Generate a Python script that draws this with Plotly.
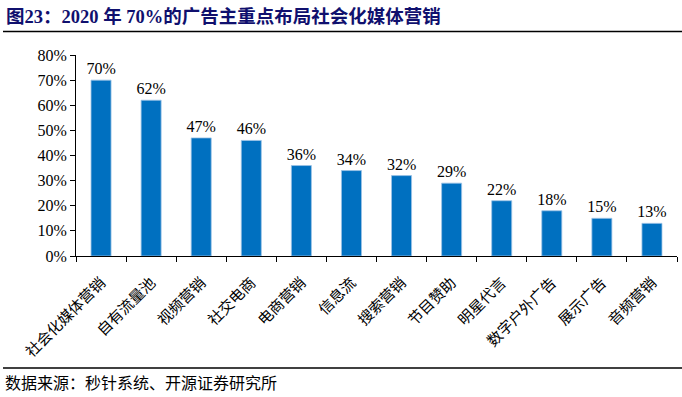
import plotly.graph_objects as go

categories = ["社会化媒体营销", "自有流量池", "视频营销", "社交电商", "电商营销", "信息流",
              "搜索营销", "节目赞助", "明星代言", "数字户外广告", "展示广告", "音频营销"]
values = [70, 62, 47, 46, 36, 34, 32, 29, 22, 18, 15, 13]
labels = [f"{v}%" for v in values]
y_ticks = [0, 10, 20, 30, 40, 50, 60, 70, 80]
y_tick_text = [f"{t}%" for t in y_ticks]

title_text = "图23：2020 年 70%的广告主重点布局社会化媒体营销"
source_text = "数据来源：秒针系统、开源证券研究所"

W, H = 682, 397
L, R, T, B = 76, 5, 55, 141
pw, ph = W - L - R, H - T - B

def px_x(x):
    return (x - L) / pw

def px_y(y):
    return (H - B - y) / ph

serif = "Liberation Serif, Times New Roman, Noto Sans CJK SC, serif"
cjk = "Liberation Serif, Noto Sans CJK SC, serif"

fig = go.Figure()
fig.add_trace(go.Bar(
    x=categories, y=values, text=labels, textposition="outside",
    constraintext="none",
    textfont=dict(family=serif, size=16, color="#000000"),
    marker=dict(color="#0070C0", line=dict(color="#9DC3E6", width=0.8)),
    width=0.4, cliponaxis=False,
))

fig.update_layout(
    width=W, height=H,
    margin=dict(l=L, r=R, t=T, b=B),
    paper_bgcolor="white", plot_bgcolor="white",
    showlegend=False,
    xaxis=dict(
        type="category", tickangle=-45, ticks="outside", tickson="boundaries",
        ticklen=5, tickcolor="#000", showline=True, linecolor="#000", linewidth=1,
        tickfont=dict(family=cjk, size=15, color="#000"),
        ticklabelstandoff=11,
        showgrid=False, automargin=False,
    ),
    yaxis=dict(
        range=[0, 80], tickvals=y_ticks, ticktext=y_tick_text,
        ticks="outside", ticklen=5, tickcolor="#000", showline=True,
        linecolor="#000", linewidth=1, showgrid=False, zeroline=False,
        tickfont=dict(family=serif, size=16, color="#000"), automargin=False,
    ),
    annotations=[
        dict(text=f"<b>{title_text}</b>", xref="paper", yref="paper",
             x=px_x(4), y=px_y(17), xanchor="left", yanchor="middle",
             showarrow=False, font=dict(family=cjk, size=18.5, color="#10106E")),
        dict(text=source_text, xref="paper", yref="paper",
             x=px_x(3), y=px_y(383), xanchor="left", yanchor="middle",
             showarrow=False, font=dict(family=cjk, size=16, color="#000")),
    ],
    shapes=[
        dict(type="line", xref="paper", yref="paper", x0=px_x(3), x1=px_x(682),
             y0=px_y(31.5), y1=px_y(31.5), line=dict(color="#000", width=1.5)),
        dict(type="line", xref="paper", yref="paper", x0=px_x(3), x1=px_x(682),
             y0=px_y(368), y1=px_y(368), line=dict(color="#000", width=1.5)),
    ],
)

fig.write_html("out.html", config={"displayModeBar": False},
               post_script="document.body.style.margin='0';")
